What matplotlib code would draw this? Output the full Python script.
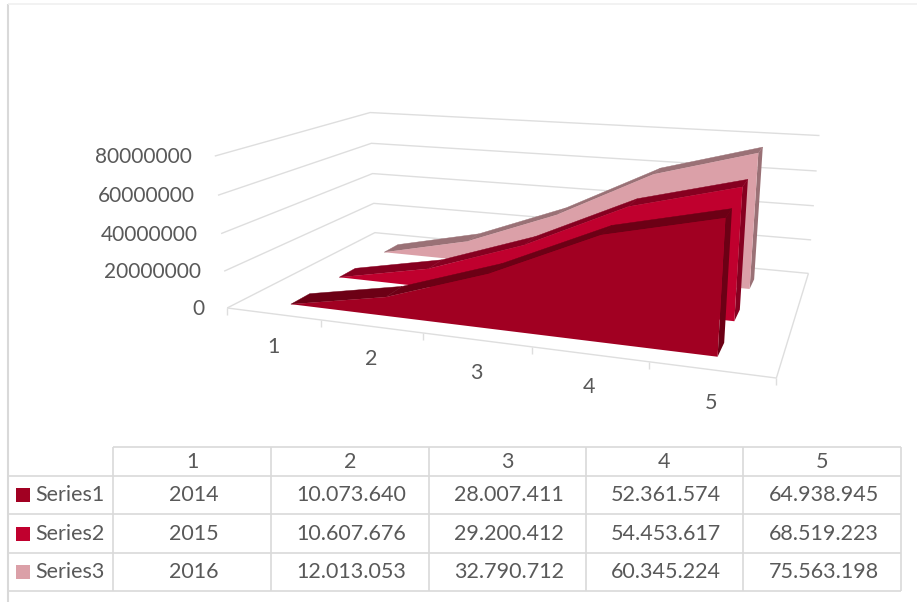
import numpy as np
import matplotlib
matplotlib.use("Agg")
import matplotlib.pyplot as plt

# table / chart data
categories = ["1", "2", "3", "4", "5"]
series_names = ["Series1", "Series2", "Series3"]
series1 = [2014, 10073640, 28007411, 52361574, 64938945]
series2 = [2015, 10607676, 29200412, 54453617, 68519223]
series3 = [2016, 12013053, 32790712, 60345224, 75563198]
table_text1 = ["2014", "10.073.640", "28.007.411", "52.361.574", "64.938.945"]
table_text2 = ["2015", "10.607.676", "29.200.412", "54.453.617", "68.519.223"]
table_text3 = ["2016", "12.013.053", "32.790.712", "60.345.224", "75.563.198"]
value_ticks = [0, 20000000, 40000000, 60000000, 80000000]

front_colors = ["#A10022", "#C0002E", "#DBA0A8"]
top_colors = ["#6C0015", "#860020", "#9A7176"]
side_colors = ["#6C0015", "#860020", "#9A7176"]
grid_color = "#DEDEDE"
table_color = "#D9D9D9"
text_color = "#595959"
FS = 15.5
plt.rcParams["font.family"] = ["Lato", "DejaVu Sans"]

# camera: pixel position of the box corners (x bin 0-5, depth 0-1, value 0-80M)
box_corners = [
    ((0, 0, 0), (227, 308)), ((0, 1, 0), (375, 233)),
    ((5, 0, 0), (777, 378)), ((5, 1, 0), (808, 273)),
    ((0, 0, 1), (215, 155)), ((0, 1, 1), (370, 113)),
    ((5, 1, 1), (820, 135)), ((5, 0, 1), (789, 198)),
]
A, b = [], []
for (X, Y, Z), (u, v) in box_corners:
    A.append([X, Y, Z, 1, 0, 0, 0, 0, -u * X, -u * Y, -u * Z])
    A.append([0, 0, 0, 0, X, Y, Z, 1, -v * X, -v * Y, -v * Z])
    b += [u, v]
p = np.linalg.lstsq(np.array(A, float), np.array(b, float), rcond=None)[0]
P = np.append(p, 1).reshape(3, 4)


def project(x, depth, value):
    w = P @ np.array([x, depth, value / 80000000, 1.0])
    return w[0] / w[2], w[1] / w[2]


fig = plt.figure(figsize=(9.17, 6.02), dpi=100)
ax = fig.add_axes([0, 0, 1, 1])
ax.set_xlim(0, 917)
ax.set_ylim(602, 0)
ax.axis("off")


def line(pts, color=grid_color, lw=1.0):
    xs, ys = zip(*pts)
    ax.plot(xs, ys, color=color, lw=lw, solid_capstyle="butt", zorder=1)


# chart frame
line([(7.5, 602), (7.5, 4)], color=table_color, lw=1.5)
line([(7.5, 4), (917, 4)], color="#F0F0F0", lw=1.2)

# walls and floor
for val in value_ticks:
    line([project(0, 0, val), project(0, 1, val), project(5, 1, val)])
line([project(0, 0, 0), project(5, 0, 0), project(5, 1, 0)])
for i in range(6):
    x0, y0 = project(i, 0, 0)
    line([(x0, y0), (x0, y0 + 7)])

# value axis labels
for val in value_ticks:
    x0, y0 = project(0, 0, val)
    ax.text(x0 - 23, y0 + 1, str(val), ha="right", va="center", fontsize=15, color=text_color)

# category labels
for i, c in enumerate(categories):
    x0, y0 = project(i + 0.5, 0, 0)
    ax.text(x0, y0 + 33, c, ha="center", va="center", fontsize=FS, color=text_color)

# areas, back series first
depth_front = [0.10, 0.41, 0.75]
thick = 0.115
xpos = [0.5, 1.5, 2.5, 3.5, 4.5]
all_series = [series1, series2, series3]
for k in [2, 1, 0]:
    vals = all_series[k]
    d0 = depth_front[k]
    d1 = d0 + thick
    # right end
    ax.fill(*zip(project(4.5, d0, 0), project(4.5, d1, 0), project(4.5, d1, vals[4]), project(4.5, d0, vals[4])),
            color=side_colors[k], lw=0, zorder=3)
    # top ribbon
    for i in range(4):
        ax.fill(*zip(project(xpos[i], d0, vals[i]), project(xpos[i + 1], d0, vals[i + 1]),
                     project(xpos[i + 1], d1, vals[i + 1]), project(xpos[i], d1, vals[i])),
                color=top_colors[k], lw=0.3, zorder=3)
    # front face
    pts = [project(x, d0, v) for x, v in zip(xpos, vals)]
    pts += [project(4.5, d0, 0), project(0.5, d0, 0)]
    ax.fill(*zip(*pts), color=front_colors[k], lw=0, zorder=3)

# data table
col_x = [113, 271, 429, 586, 743, 901]
row_y = [447, 476, 514, 553, 591]
line([(col_x[0], row_y[0]), (col_x[-1], row_y[0])], color=table_color, lw=1.2)
for y in row_y[1:]:
    line([(7, y), (col_x[-1], y)], color=table_color, lw=1.2)
for x in col_x:
    line([(x, row_y[0]), (x, row_y[-1])], color=table_color, lw=1.2)
for i, c in enumerate(categories):
    xc = (col_x[i] + col_x[i + 1]) / 2
    ax.text(xc, (row_y[0] + row_y[1]) / 2 + 1, c, ha="center", va="center", fontsize=FS, color=text_color)

table_rows = [table_text1, table_text2, table_text3]
for r, row in enumerate(table_rows):
    yc = (row_y[r + 1] + row_y[r + 2]) / 2
    ax.fill([16, 30, 30, 16], [yc - 7, yc - 7, yc + 7, yc + 7], color=front_colors[r], lw=0)
    ax.text(35, yc, series_names[r], ha="left", va="center", fontsize=FS, color=text_color)
    for i, t in enumerate(row):
        xc = (col_x[i] + col_x[i + 1]) / 2
        ax.text(xc + 1.5, yc, t, ha="center", va="center", fontsize=FS, color=text_color)

fig.savefig("out.png", dpi=100)
